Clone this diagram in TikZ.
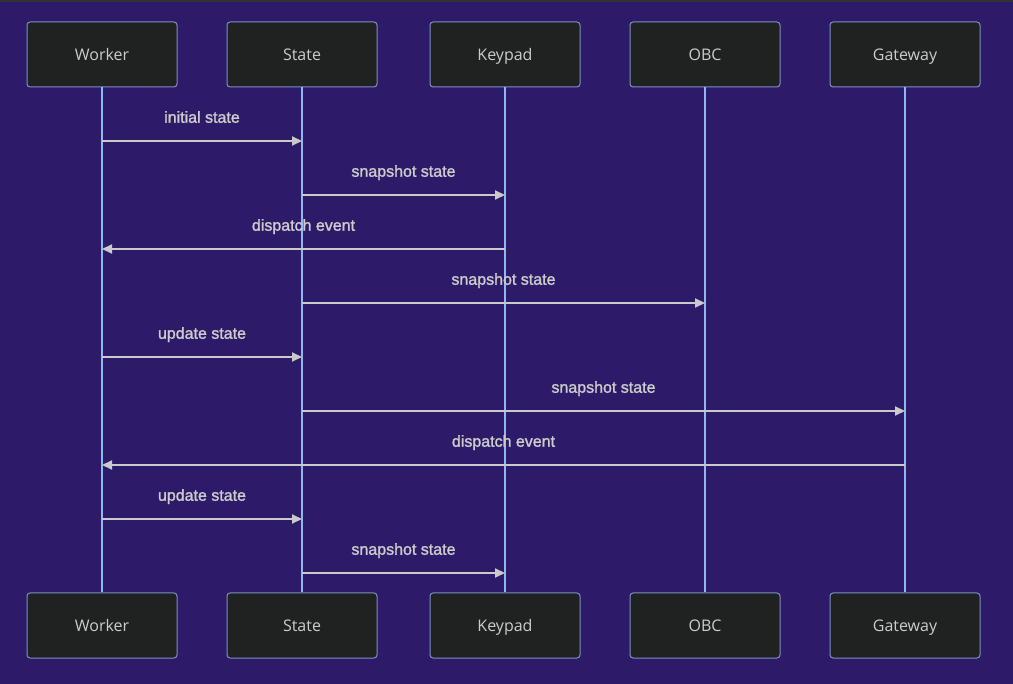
\documentclass[tikz,border=0pt]{standalone}
\usepackage{fontspec}
\setmainfont{Open Sans}
\newfontfamily\msgfont[FakeBold=1.5]{Liberation Sans}
\usetikzlibrary{arrows.meta}
\definecolor{bgc}{HTML}{2D1B69}
\definecolor{boxfill}{HTML}{202222}
\definecolor{boxline}{HTML}{7D8FC4}
\definecolor{lifec}{HTML}{8FB8EC}
\definecolor{msgc}{HTML}{CACACA}
\definecolor{txtc}{HTML}{CCCCCC}
\definecolor{topbar}{HTML}{333333}
\tikzset{
  actor/.style={draw=boxline, line width=1pt, fill=boxfill, rounded corners=3pt,
    minimum width=150pt, minimum height=65pt, inner sep=0pt,
    text height=11.5pt, text depth=0pt,
    text=txtc, font=\fontsize{16pt}{19pt}\selectfont},
  lifeline/.style={draw=lifec, line width=2pt},
  msg/.style={draw=msgc, line width=2pt, -{Triangle[length=10pt,width=9pt]}},
  msglabel/.style={text=txtc, font=\msgfont\fontsize{16pt}{19pt}\selectfont, inner sep=0pt,
    text height=11.5pt, text depth=0pt}
}
\newcommand\seqmsg[3]{%
  \draw[msg] (#1) -- (#2) node[msglabel, midway, yshift=24pt] {#3};}
\begin{document}
\begin{tikzpicture}[x=1pt,y=-1pt]
\fill[bgc] (0,0) rectangle (1013,684);
\fill[topbar] (0,0) rectangle (1013,2);
\useasboundingbox (0,0) rectangle (1013,684);
% actors
\foreach \n/\t/\x in {W/Worker/102, S/State/302, K/Keypad/505, O/OBC/705, G/Gateway/905}{
  \node[actor] (\n top) at (\x,54.5) {\t};
  \node[actor] (\n bot) at (\x,625.5) {\t};
}
\foreach \n in {W,S,K,O,G}{
  \draw[lifeline] (\n top.south) -- (\n bot.north);
}
% message coordinates
\foreach \n/\x in {W/102, S/302, K/505, O/705, G/905}{
  \foreach \i/\y in {1/141,2/195,3/249,4/303,5/357,6/411,7/465,8/519,9/573}{
    \coordinate (\n\i) at (\x,\y);
  }
}
\seqmsg{W1}{S1}{initial state}
\seqmsg{S2}{K2}{snapshot state}
\seqmsg{K3}{W3}{dispatch event}
\seqmsg{S4}{O4}{snapshot state}
\seqmsg{W5}{S5}{update state}
\seqmsg{S6}{G6}{snapshot state}
\seqmsg{G7}{W7}{dispatch event}
\seqmsg{W8}{S8}{update state}
\seqmsg{S9}{K9}{snapshot state}
\end{tikzpicture}
\end{document}
